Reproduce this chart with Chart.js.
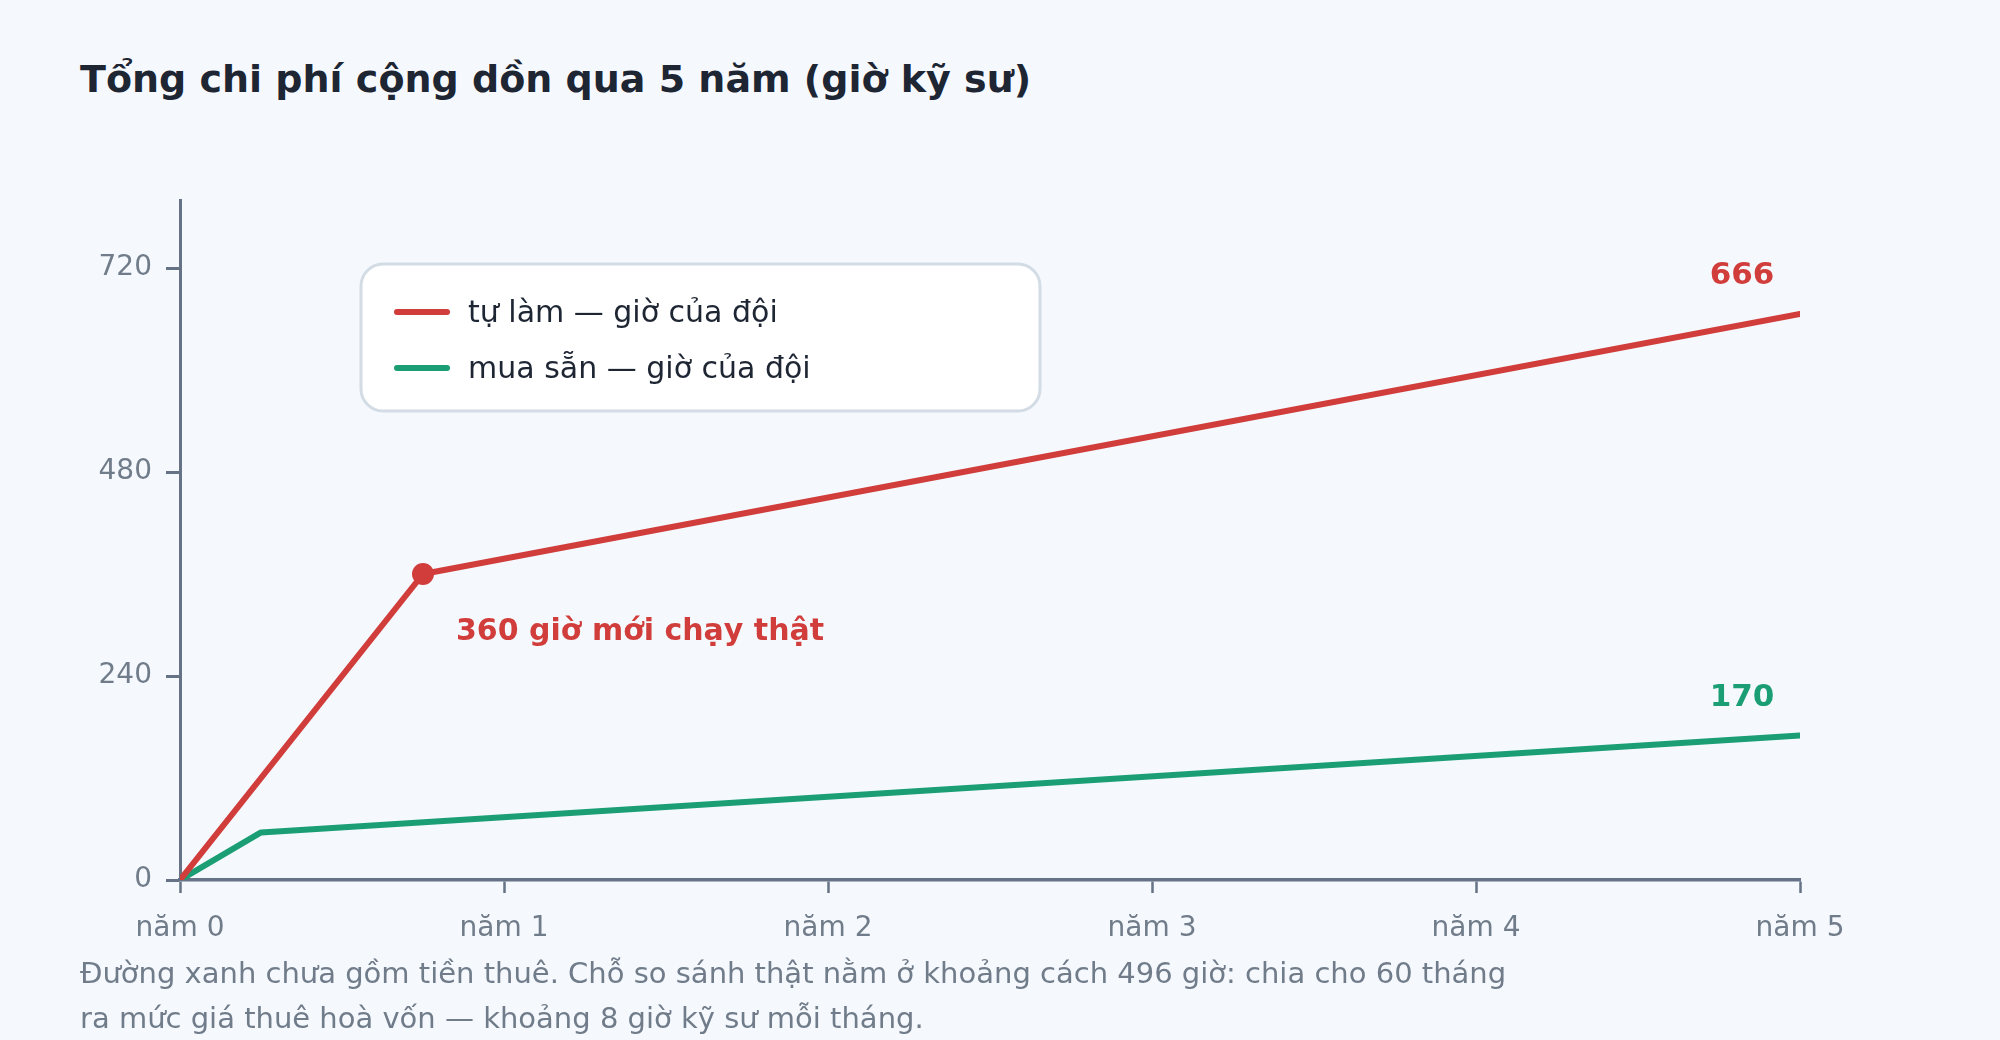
<!DOCTYPE html>
<html lang="vi">
<head>
<meta charset="utf-8">
<script src="https://cdn.jsdelivr.net/npm/chart.js@4.4.1/dist/chart.umd.min.js"></script>
<style>
  html, body { margin: 0; padding: 0; background: #f5f9fe; }
  body { width: 2000px; height: 1040px; position: relative; overflow: hidden;
         font-family: "DejaVu Sans", sans-serif; }
  #title { position: absolute; left: 80px; top: 57px; font-size: 38px; font-weight: bold; color: #1e2533; }
  #note { position: absolute; left: 80px; top: 951px; font-size: 29px; line-height: 45px; color: #717c8a; }
  #wrap { position: absolute; left: 0; top: 0; width: 2000px; height: 1040px; }
</style>
</head>
<body>
<div id="title">Tổng chi phí cộng dồn qua 5 năm (giờ kỹ sư)</div>
<div id="wrap"><canvas id="c"></canvas></div>
<div id="note">Đường xanh chưa gồm tiền thuê. Chỗ so sánh thật nằm ở khoảng cách 496 giờ: chia cho 60 tháng<br>ra mức giá thuê hoà vốn — khoảng 8 giờ kỹ sư mỗi tháng.</div>
<script>
// cumulative engineer-hours, x in years
const BUILD_X = [0, 0.75, 5];
const BUILD_Y = [0, 360, 666];
const BUY_X = [0, 0.25, 5];
const BUY_Y = [0, 56, 170];
const X_TICKS = [0, 1, 2, 3, 4, 5];
const Y_TICKS = [0, 240, 480, 720];
const Y_MAX = 800;
const LABELS = ['tự làm — giờ của đội', 'mua sẵn — giờ của đội'];
const KNEE_NOTE = '360 giờ mới chạy thật';

const RED = '#d13d3b';
const GREEN = '#1b9e74';
const AXIS = '#667386';
const MUTED = '#717c8a';
const FONT = "'DejaVu Sans', sans-serif";

const pts = (xs, ys) => xs.map((x, i) => ({ x, y: ys[i] }));

// legend card + end labels + knee note, all placed via the scales
const overlay = {
  id: 'overlay',
  afterDatasetsDraw(chart) {
    const { ctx, scales: { x, y } } = chart;
    ctx.save();
    // legend card
    const bx = 361, by = 264, bw = 679, bh = 147, r = 22;
    ctx.beginPath();
    ctx.roundRect(bx, by, bw, bh, r);
    ctx.fillStyle = '#ffffff';
    ctx.fill();
    ctx.lineWidth = 3;
    ctx.strokeStyle = '#d3dce5';
    ctx.stroke();
    chart.data.datasets.forEach((ds, i) => {
      const ly = by + 48 + i * 56;
      ctx.beginPath();
      ctx.moveTo(397, ly);
      ctx.lineTo(447, ly);
      ctx.lineWidth = 6;
      ctx.lineCap = 'round';
      ctx.strokeStyle = ds.borderColor;
      ctx.stroke();
      ctx.fillStyle = '#1e2533';
      ctx.font = `30px ${FONT}`;
      ctx.textBaseline = 'middle';
      ctx.textAlign = 'left';
      ctx.fillText(ds.label, 468, ly + 2);
    });
    // end values
    ctx.font = `bold 31px ${FONT}`;
    ctx.textAlign = 'center';
    chart.data.datasets.forEach(ds => {
      const last = ds.data[ds.data.length - 1];
      ctx.fillStyle = ds.borderColor;
      ctx.fillText(String(last.y), x.getPixelForValue(last.x) - 58, y.getPixelForValue(last.y) - 38);
    });
    // knee note
    const knee = chart.data.datasets[0].data[1];
    ctx.font = `bold 30px ${FONT}`;
    ctx.fillStyle = RED;
    ctx.textAlign = 'left';
    ctx.fillText(KNEE_NOTE, x.getPixelForValue(knee.x) + 33, y.getPixelForValue(knee.y) + 58);
    ctx.restore();
  }
};

new Chart(document.getElementById('c'), {
  type: 'line',
  data: {
    datasets: [
      {
        label: LABELS[0],
        data: pts(BUILD_X, BUILD_Y),
        borderColor: RED,
        backgroundColor: RED,
        borderWidth: 6,
        borderCapStyle: 'round',
        borderJoinStyle: 'round',
        pointRadius: ctx => ctx.dataIndex === 1 ? 11 : 0,
        pointBorderWidth: 0,
        tension: 0,
      },
      {
        label: LABELS[1],
        data: pts(BUY_X, BUY_Y),
        borderColor: GREEN,
        backgroundColor: GREEN,
        borderWidth: 6,
        borderCapStyle: 'round',
        borderJoinStyle: 'round',
        pointRadius: 0,
        tension: 0,
      },
    ],
  },
  options: {
    responsive: true,
    maintainAspectRatio: false,
    animation: false,
    devicePixelRatio: 1,
    layout: { padding: { left: 80, right: 200, top: 200, bottom: 100 } },
    plugins: { legend: { display: false }, tooltip: { enabled: false } },
    scales: {
      x: {
        type: 'linear',
        min: 0,
        max: 5,
        afterBuildTicks: s => { s.ticks = X_TICKS.map(v => ({ value: v })); },
        afterFit: s => { s.height = 60; },
        ticks: {
          callback: v => 'năm ' + v,
          color: MUTED,
          font: { family: FONT, size: 28 },
          padding: 19,
          maxRotation: 0,
        },
        grid: { drawOnChartArea: false, tickLength: 13, tickWidth: 2.5, tickColor: AXIS },
        border: { color: AXIS, width: 3.5 },
      },
      y: {
        min: 0,
        max: Y_MAX,
        afterBuildTicks: s => { s.ticks = Y_TICKS.map(v => ({ value: v })); },
        afterFit: s => { s.width = 100; },
        ticks: { color: MUTED, font: { family: FONT, size: 28 }, padding: 14 },
        grid: { drawOnChartArea: false, tickLength: 14, tickWidth: 3, tickColor: AXIS },
        border: { color: AXIS, width: 3 },
      },
    },
  },
  plugins: [overlay],
});
</script>
</body>
</html>
